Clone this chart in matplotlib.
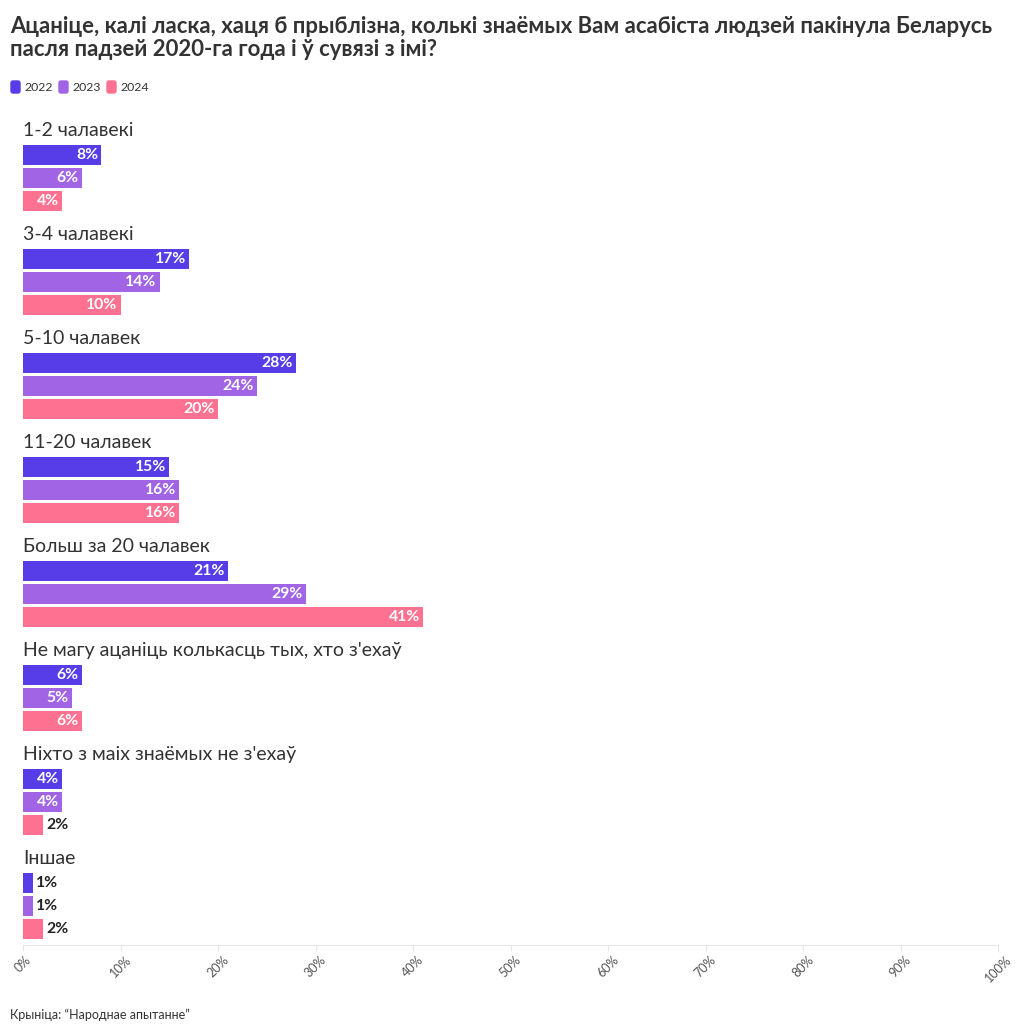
import numpy as np
import matplotlib
matplotlib.use("Agg")
import matplotlib.pyplot as plt
from matplotlib.patches import FancyBboxPatch

plt.rcParams['font.family'] = ['Lato', 'Noto Sans', 'DejaVu Sans']

categories = ["1-2 чалавекі", "3-4 чалавекі", "5-10 чалавек", "11-20 чалавек",
              "Больш за 20 чалавек", "Не магу ацаніць колькасць тых, хто з'ехаў",
              "Ніхто з маіх знаёмых не з'ехаў", "Іншае"]
years = ["2022", "2023", "2024"]
v2022 = [8, 17, 28, 15, 21, 6, 4, 1]
v2023 = [6, 14, 24, 16, 29, 5, 4, 1]
v2024 = [4, 10, 20, 16, 41, 6, 2, 2]
colors = ["#563de8", "#a064e4", "#ff7190"]
ticks = list(range(0, 101, 10))

title = ("Ацаніце, калі ласка, хаця б прыблізна, колькі знаёмых Вам асабіста людзей пакінула Беларусь\n"
         "пасля падзей 2020-га года і ў сувязі з імі?")
source = "Крыніца: “Народнае апытанне”"

fig = plt.figure(figsize=(10.2, 10.34), dpi=100)
ax = fig.add_axes([23/1020, 1 - 945/1034, 975/1020, 830/1034])

pitch = 104 / 23
series = [v2022, v2023, v2024]
for g, cat in enumerate(categories):
    base = g * pitch
    ax.text(0, base - 1.05, cat, fontsize=14, color="#333333", va="center", ha="left")
    for s, vals in enumerate(series):
        y = base + s
        v = vals[g]
        ax.barh(y, v, height=0.9, color=colors[s], edgecolor="none")
        if v >= 3:
            ax.text(v - 0.3, y, f"{v}%", color="white", fontsize=11.3, fontweight="bold",
                    va="center", ha="right")
        else:
            ax.text(v + 0.35, y, f"{v}%", color="#222222", fontsize=11.3, fontweight="bold",
                    va="center", ha="left")

ax.set_xlim(0, 100)
ax.set_ylim((945 - 155) / 23, (115 - 155) / 23)
ax.set_xticks(ticks)
ax.set_xticklabels([f"{t}%" for t in ticks], rotation=45, fontsize=9, color="#555555",
                   ha="center", va="top")
ax.tick_params(axis="x", length=4, color="#e6e6e6", pad=2)
ax.set_yticks([])
for sp in ["top", "right", "left"]:
    ax.spines[sp].set_visible(False)
ax.spines["bottom"].set_color("#e6e6e6")

fig.text(10/1020, 1 - 38/1034, title, fontsize=15.9, fontweight="bold", color="#333333",
         va="center", ha="left", linespacing=1.1)

lx = 11
for s, yr in enumerate(years):
    fig.patches.append(FancyBboxPatch((lx/1020, 1 - 93/1034), 9/1020, 12/1034,
                                      boxstyle="round,pad=0,rounding_size=0.002",
                                      transform=fig.transFigure, color=colors[s]))
    fig.text((lx + 13)/1020, 1 - 87.5/1034, yr, fontsize=8.8, color="#333333", va="center")
    lx += 48

fig.text(10/1020, 1 - 1015/1034, source, fontsize=9, color="#333333", va="center")

fig.savefig("out.png", dpi=100)
